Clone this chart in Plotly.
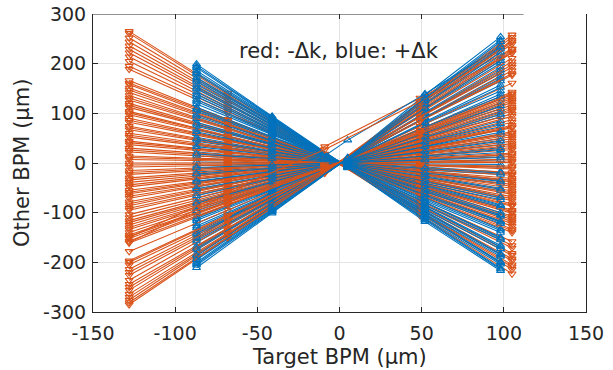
import plotly.graph_objects as go

# x positions of the five target-BPM readings for each sign of the kick
RED_X = [-128, -68, -9, 49, 105]
BLUE_X = [-87, -41, 5, 52, 98]

# other-BPM readings (µm), one row per BPM
RED_Y = [
    [265, 141, 18, -106, -223], [261, 137, 16, -102, -214], [252, 134, 17, -98, -209],
    [244, 128, 14, -97, -205], [236, 126, 15, -92, -197], [229, 120, 13, -91, -193],
    [222, 118, 15, -87, -186], [214, 113, 12, -85, -182], [205, 109, 14, -80, -171],
    [195, 104, 11, -78, -166], [189, 100, 12, -74, -158], [166, 88, 10, -66, -140],
    [158, 83, 9, -61, -133], [151, 80, 10, -60, -127], [142, 76, 8, -55, -118],
    [136, 71, 9, -54, -114], [127, 68, 7, -49, -107], [120, 63, 8, -47, -101],
    [112, 60, 6, -44, -95], [104, 55, 7, -41, -87], [97, 52, 5, -38, -82],
    [90, 47, 6, -36, -76], [82, 44, 4, -32, -68], [74, 39, 5, -29, -63],
    [67, 36, 3, -27, -56], [60, 31, 4, -23, -51], [52, 28, 2, -21, -43],
    [44, 23, 3, -17, -38], [37, 20, 1, -15, -31], [30, 16, 2, -11, -25],
    [22, 11, 0, -9, -19], [14, 8, 1, -5, -12], [7, 4, -1, -3, -6],
    [0, 0, 0, 1, 1], [-8, -5, -1, 3, 8], [-15, -8, -2, 6, 13],
    [-23, -12, -1, 10, 20], [-30, -16, -3, 12, 27], [-39, -21, -2, 17, 35],
    [-48, -25, -4, 19, 44], [-55, -30, -3, 23, 49], [-62, -33, -5, 27, 57],
    [-71, -37, -4, 29, 63], [-78, -42, -6, 34, 71], [-86, -45, -5, 36, 76],
    [-95, -51, -7, 41, 87], [-104, -55, -6, 44, 94], [-116, -62, -9, 48, 105],
    [-125, -66, -8, 54, 112], [-134, -71, -10, 56, 122], [-145, -78, -9, 62, 130],
    [-152, -80, -12, 63, 138], [-161, -86, -11, 69, 143], [-178, -95, -13, 74, 161],
    [-197, -104, -14, 85, 177], [-205, -110, -13, 86, 186], [-214, -113, -16, 92, 193],
    [-226, -120, -15, 94, 204], [-236, -124, -17, 101, 211], [-244, -131, -16, 103, 222],
    [-256, -135, -19, 109, 229], [-264, -141, -18, 111, 240], [-276, -145, -20, 118, 247],
    [-285, -151, -19, 121, 258], [-160, -62, 33, 131, 230],
    [161, 86, 9, -64, -136], [147, 78, 9, -57, -122], [131, 70, 8, -51, -110],
    [116, 61, 7, -46, -98], [101, 54, 6, -40, -85], [86, 46, 5, -34, -72],
    [71, 37, 4, -28, -60], [56, 30, 3, -22, -47], [41, 22, 2, -16, -35],
    [26, 14, 1, -10, -22], [11, 6, 0, -4, -9], [-4, -2, 0, 2, 4],
    [-19, -10, -1, 8, 17], [-34, -18, -2, 14, 31], [-44, -23, -3, 18, 39],
    [-59, -31, -4, 25, 53], [-67, -35, -5, 28, 60], [-82, -43, -6, 35, 73],
    [-91, -48, -6, 38, 82], [-110, -58, -8, 46, 99], [-120, -64, -8, 51, 108],
    [-130, -69, -9, 55, 117], [-140, -74, -10, 59, 126], [-148, -79, -10, 62, 134],
    [-157, -83, -11, 66, 140], [-200, -106, -14, 84, 180], [-220, -116, -15, 93, 198],
    [-250, -133, -17, 106, 226], [-270, -143, -19, 114, 244], [-281, -149, -20, 119, 253],
    [-150, -58, 27, 124, 222],
]

BLUE_Y = [
    [199, 94, -9, -118, -217], [192, 91, -10, -113, -212], [186, 89, -8, -111, -204],
    [179, 85, -9, -105, -199], [172, 82, -7, -102, -188], [164, 78, -8, -96, -183],
    [158, 76, -6, -94, -173], [149, 71, -7, -87, -166], [143, 68, -5, -85, -155],
    [134, 64, -6, -79, -150], [128, 61, -4, -76, -140], [119, 57, -5, -70, -133],
    [112, 53, -3, -67, -122], [104, 50, -4, -61, -117], [98, 46, -2, -58, -107],
    [89, 43, -3, -52, -100], [82, 39, -2, -49, -89], [74, 36, -1, -43, -84],
    [68, 32, -3, -41, -74], [59, 29, -1, -34, -67], [52, 24, -2, -31, -56],
    [44, 21, 0, -26, -51], [38, 18, -1, -23, -41], [29, 14, 1, -17, -34],
    [22, 10, -1, -14, -23], [14, 7, 0, -8, -18], [8, 4, 1, -5, -8],
    [2, 1, 0, -1, -3], [-5, -2, 1, 4, 6], [-12, -6, 0, 7, 15],
    [-18, -9, 2, 12, 21], [-25, -12, 1, 15, 31], [-33, -15, 2, 21, 37],
    [-40, -19, 1, 25, 49], [-48, -23, 3, 31, 57], [-55, -26, 2, 34, 67],
    [-62, -30, 4, 40, 73], [-71, -33, 3, 44, 85], [-78, -37, 5, 51, 93],
    [-85, -41, 4, 54, 103], [-92, -44, 6, 60, 109], [-100, -48, 5, 63, 121],
    [-108, -52, 6, 70, 129], [-116, -55, 4, 73, 139], [-122, -58, 7, 79, 145],
    [-131, -62, 5, 83, 157], [-138, -66, 8, 90, 165], [-145, -69, 6, 92, 175],
    [-152, -73, 8, 99, 181], [-160, -76, 7, 102, 193], [-168, -80, 9, 109, 201],
    [-175, -83, 7, 112, 211], [-183, -87, 10, 118, 217], [-190, -91, 8, 121, 229],
    [-200, -95, 11, 129, 238], [-206, -98, 9, 132, 248], [-211, -101, 10, 137, 254],
    [-150, -58, 46, 139, 234],
    [195, 93, -9, -115, -214], [182, 87, -8, -107, -201], [168, 80, -7, -99, -185],
    [153, 73, -7, -90, -169], [138, 66, -6, -81, -152], [124, 59, -5, -73, -136],
    [108, 52, -4, -64, -119], [94, 45, -4, -55, -104], [78, 37, -3, -46, -86],
    [63, 30, -2, -37, -70], [48, 23, -2, -28, -53], [33, 16, -1, -20, -37],
    [18, 9, 0, -11, -20], [-9, -4, 1, 6, 11], [-22, -11, 1, 14, 27],
    [-37, -17, 2, 23, 44], [-52, -25, 2, 33, 62], [-66, -31, 3, 42, 79],
    [-81, -39, 4, 52, 98], [-96, -46, 4, 61, 115], [-112, -53, 5, 72, 134],
    [-127, -60, 6, 81, 152], [-142, -68, 6, 91, 170], [-156, -74, 7, 100, 187],
    [-172, -82, 8, 110, 206], [-186, -89, 9, 119, 223], [-195, -93, 9, 125, 233],
    [-203, -96, 10, 130, 244],
]

X_TICKS = [-150, -100, -50, 0, 50, 100, 150]
Y_TICKS = [-300, -200, -100, 0, 100, 200, 300]
ANNOT_TEXT = "red: -Δk, blue: +Δk"
X_TITLE = "Target BPM (µm)"
Y_TITLE = "Other BPM (µm)"

RED = "#D95319"
BLUE = "#0072BD"
AXC = "#262626"
FONT = "DejaVu Sans"

# interleave the two series evenly so neither colour sits entirely on top
order = [((i + 0.5) / len(RED_Y), "r", i) for i in range(len(RED_Y))] + \
        [((j + 0.9) / len(BLUE_Y), "b", j) for j in range(len(BLUE_Y))]
order.sort()

fig = go.Figure()
for _, c, i in order:
    if c == "r":
        fig.add_trace(go.Scatter(
            x=RED_X, y=RED_Y[i], mode="lines+markers",
            line=dict(color=RED, width=1.1),
            marker=dict(symbol="triangle-down-open", size=7, color=RED, line=dict(width=1.1)),
            showlegend=False, hoverinfo="skip"))
    else:
        fig.add_trace(go.Scatter(
            x=BLUE_X, y=BLUE_Y[i], mode="lines+markers",
            line=dict(color=BLUE, width=1.1),
            marker=dict(symbol="triangle-up-open", size=7, color=BLUE, line=dict(width=1.1)),
            showlegend=False, hoverinfo="skip"))

fig.update_layout(
    width=613, height=370,
    margin=dict(l=93, r=27, t=14, b=58, autoexpand=False),
    paper_bgcolor="white", plot_bgcolor="white",
    font=dict(family=FONT, color=AXC, size=18),
    xaxis=dict(range=[-150, 150], tickvals=X_TICKS, ticktext=[str(v) for v in X_TICKS],
               ticks="inside", ticklen=5, tickcolor=AXC, showgrid=True, gridcolor="#e3e3e3",
               zeroline=False, showline=True, linecolor=AXC, linewidth=1, automargin=False,
               ticklabelstandoff=4,
               tickfont=dict(size=19, family=FONT, color=AXC)),
    yaxis=dict(range=[-300, 300], tickvals=Y_TICKS, ticktext=[str(v) for v in Y_TICKS],
               ticks="inside", ticklen=5, tickcolor=AXC, showgrid=True, gridcolor="#e3e3e3",
               zeroline=False, showline=True, linecolor=AXC, linewidth=1, automargin=False,
               ticklabelstandoff=2,
               tickfont=dict(size=19, family=FONT, color=AXC)),
    xaxis2=dict(range=[-150, 150], tickvals=X_TICKS, overlaying="x", side="top",
                ticks="inside", ticklen=5, tickcolor=AXC, showticklabels=False, automargin=False,
                showgrid=False, zeroline=False, showline=False),
    yaxis2=dict(range=[-300, 300], tickvals=Y_TICKS, overlaying="y", side="right",
                ticks="inside", ticklen=5, tickcolor=AXC, showticklabels=False, automargin=False,
                showgrid=False, zeroline=False, showline=True, linecolor=AXC, linewidth=1),
)
# dummy trace to activate the mirrored axes
fig.add_trace(go.Scatter(x=[None], y=[None], xaxis="x2", yaxis="y2", showlegend=False))

# partial top border
fig.add_shape(type="line", xref="x", yref="y", x0=-150, x1=112, y0=300, y1=300,
              line=dict(color=AXC, width=1))

fig.add_annotation(text=ANNOT_TEXT, xref="x", yref="y", x=-62.5, y=226,
                   xanchor="left", yanchor="middle", showarrow=False,
                   font=dict(size=21, family=FONT, color=AXC))
fig.add_annotation(text=X_TITLE, xref="paper", yref="paper", x=0.5, y=0, yshift=-45,
                   xanchor="center", yanchor="middle", showarrow=False,
                   font=dict(size=21, family=FONT, color=AXC))
fig.add_annotation(text=Y_TITLE, xref="paper", yref="paper", x=0, y=0.5, xshift=-71,
                   xanchor="center", yanchor="middle", textangle=-90, showarrow=False,
                   font=dict(size=21, family=FONT, color=AXC))

fig.write_html("out.html")
